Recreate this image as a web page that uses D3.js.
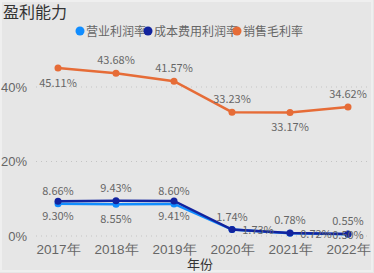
<!DOCTYPE html>
<html><head><meta charset="utf-8">
<script src="https://cdn.jsdelivr.net/npm/d3@7"></script>
<style>html,body{margin:0;padding:0;background:#e6e6e6;}svg{display:block;font-family:"Segoe UI","Noto Sans CJK SC","Noto Sans",sans-serif;}</style>
</head><body>
<script>
const categories = ["2017年","2018年","2019年","2020年","2021年","2022年"];
const opMargin = [8.66, 8.55, 8.60, 1.73, 0.72, 0.50];      // 营业利润率
const costMargin = [9.30, 9.43, 9.41, 1.74, 0.78, 0.55];    // 成本费用利润率
const grossMargin = [45.11, 43.68, 41.57, 33.23, 33.17, 34.62]; // 销售毛利率
const yTicks = [0, 20, 40];
const seriesNames = ["营业利润率","成本费用利润率","销售毛利率"];

// label placements (style): a = above, b = below, c = beside
const opPos = [["a",0],["b",0],["a",0],["c",26],["c",26],["c",0]];
const costPos = [["b",0],["a",0],["b",0],["a",0],["a",0],["a",0]];
const grossPos = [["b",0],["a",0],["a",0],["a",0],["b",0],["a",0]];
const posDy = {a:-9, b:19, c:4.5};

const W = 374, H = 273;
const svg = d3.select("body").append("svg").attr("width", W).attr("height", H);
svg.append("rect").attr("x",0).attr("y",0).attr("width",W).attr("height",H).attr("fill","#e6e6e6");
svg.append("rect").attr("x",1).attr("y",1).attr("width",W-3).attr("height",H-3).attr("fill","none").attr("stroke","#efefef").attr("stroke-width",2);

const x = d3.scalePoint().domain(categories).range([58, 348]);
const y = d3.scaleLinear().domain([0, 40]).range([236, 87]);

svg.append("text").attr("x",3).attr("y",18).attr("font-size",16).attr("fill","#333").text("盈利能力");

// legend
const colors = ["#118DFF","#12239E","#E66C37"];
const legX = [80, 148, 237];
seriesNames.forEach((n,i)=>{
  svg.append("circle").attr("cx",legX[i]).attr("cy",31).attr("r",4.5).attr("fill",colors[i]);
  svg.append("text").attr("x",legX[i]+6).attr("y",35.5).attr("font-size",12).attr("fill","#666").text(n);
});

// grid
const yAxis = d3.axisLeft(y).tickValues(yTicks).tickFormat(d=>d+"%").tickSize(0).tickPadding(0);
const gy = svg.append("g").attr("transform","translate(27,0)").call(yAxis);
gy.select(".domain").remove();
gy.selectAll("text").attr("font-size",13).attr("fill","#666").attr("font-family","inherit");
yTicks.forEach(t=>{
  svg.append("line").attr("x1",36).attr("x2",368).attr("y1",y(t)).attr("y2",y(t))
    .attr("stroke","#c4c4c4").attr("stroke-width",1).attr("stroke-dasharray","1,4");
});

const xAxis = d3.axisBottom(x).tickSize(0).tickPadding(0);
const gx = svg.append("g").attr("transform","translate(0,243.5)").call(xAxis);
gx.select(".domain").remove();
gx.selectAll("text").attr("font-size",13.5).attr("fill","#666").attr("font-family","inherit").attr("dy","0.75em");
svg.append("text").attr("x",200).attr("y",269).attr("text-anchor","middle").attr("font-size",13).attr("fill","#333").text("年份");

const line = d3.line().x((d,i)=>x(categories[i])).y(d=>y(d));
function drawSeries(vals, color){
  svg.append("path").datum(vals).attr("d",line).attr("fill","none").attr("stroke",color).attr("stroke-width",2.5);
  svg.selectAll(null).data(vals).enter().append("circle")
    .attr("cx",(d,i)=>x(categories[i])).attr("cy",d=>y(d)).attr("r",3.5).attr("fill",color);
}
function drawLabels(vals, pos){
  svg.selectAll(null).data(vals).enter().append("text")
    .attr("x",(d,i)=>x(categories[i])+pos[i][1])
    .attr("y",(d,i)=>y(d)+posDy[pos[i][0]])
    .attr("text-anchor","middle").attr("font-size",11).attr("fill","#666")
    .text(d=>d.toFixed(2)+"%");
}
drawSeries(opMargin, colors[0]);
drawSeries(costMargin, colors[1]);
drawSeries(grossMargin, colors[2]);
drawLabels(opMargin, opPos);
drawLabels(costMargin, costPos);
drawLabels(grossMargin, grossPos);
</script>
</body></html>
